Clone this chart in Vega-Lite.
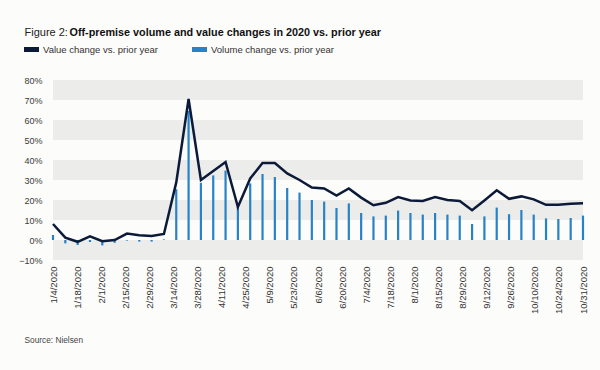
{
  "$schema": "https://vega.github.io/schema/vega-lite/v6.json",
  "width": 530,
  "height": 180,
  "autosize": {"type": "none"},
  "padding": {"left": 53, "top": 80, "right": 17, "bottom": 110},
  "background": "#fcfcfa",
  "config": {
    "view": {"stroke": null},
    "font": "Liberation Sans"
  },
  "datasets": {
    "weeks": [
      {"date": "1/4/2020", "value": 8.0, "volume": 2.5},
      {"date": "1/11/2020", "value": 1.2, "volume": -1.7},
      {"date": "1/18/2020", "value": -0.9, "volume": -2.5},
      {"date": "1/25/2020", "value": 1.8, "volume": -1.0},
      {"date": "2/1/2020", "value": -0.6, "volume": -2.7},
      {"date": "2/8/2020", "value": 0.0, "volume": -1.4},
      {"date": "2/15/2020", "value": 3.2, "volume": -0.3},
      {"date": "2/22/2020", "value": 2.4, "volume": -0.8},
      {"date": "2/29/2020", "value": 2.0, "volume": -0.8},
      {"date": "3/7/2020", "value": 3.0, "volume": 0.3},
      {"date": "3/14/2020", "value": 28.8, "volume": 25.4},
      {"date": "3/21/2020", "value": 70.5, "volume": 64.5},
      {"date": "3/28/2020", "value": 30.0, "volume": 28.6},
      {"date": "4/4/2020", "value": 34.5, "volume": 32.3},
      {"date": "4/11/2020", "value": 39.0, "volume": 34.7},
      {"date": "4/18/2020", "value": 16.5, "volume": 16.5},
      {"date": "4/25/2020", "value": 30.8, "volume": 28.3},
      {"date": "5/2/2020", "value": 38.5, "volume": 33.0},
      {"date": "5/9/2020", "value": 38.5, "volume": 31.5},
      {"date": "5/16/2020", "value": 33.3, "volume": 26.0},
      {"date": "5/23/2020", "value": 30.0, "volume": 23.7},
      {"date": "5/30/2020", "value": 26.2, "volume": 20.0},
      {"date": "6/6/2020", "value": 25.8, "volume": 19.2},
      {"date": "6/13/2020", "value": 22.2, "volume": 16.0},
      {"date": "6/20/2020", "value": 25.8, "volume": 18.3},
      {"date": "6/27/2020", "value": 21.2, "volume": 13.5},
      {"date": "7/4/2020", "value": 17.4, "volume": 11.8},
      {"date": "7/11/2020", "value": 18.6, "volume": 12.2},
      {"date": "7/18/2020", "value": 21.5, "volume": 14.7},
      {"date": "7/25/2020", "value": 19.8, "volume": 13.5},
      {"date": "8/1/2020", "value": 19.5, "volume": 12.7},
      {"date": "8/8/2020", "value": 21.5, "volume": 13.5},
      {"date": "8/15/2020", "value": 20.0, "volume": 12.7},
      {"date": "8/22/2020", "value": 19.5, "volume": 12.2},
      {"date": "8/29/2020", "value": 14.9, "volume": 8.0},
      {"date": "9/5/2020", "value": 19.8, "volume": 11.8},
      {"date": "9/12/2020", "value": 24.9, "volume": 16.2},
      {"date": "9/19/2020", "value": 20.6, "volume": 12.9},
      {"date": "9/26/2020", "value": 21.8, "volume": 15.0},
      {"date": "10/3/2020", "value": 20.3, "volume": 12.7},
      {"date": "10/10/2020", "value": 17.6, "volume": 10.8},
      {"date": "10/17/2020", "value": 17.6, "volume": 10.5},
      {"date": "10/24/2020", "value": 18.1, "volume": 11.0},
      {"date": "10/31/2020", "value": 18.4, "volume": 12.2}
    ],
    "bands": [
      {"lo": -10, "hi": 0},
      {"lo": 10, "hi": 20},
      {"lo": 30, "hi": 40},
      {"lo": 50, "hi": 60},
      {"lo": 70, "hi": 80}
    ],
    "labels": [
      {"label": "1/4/2020"}, {"label": "1/18/2020"}, {"label": "2/1/2020"}, {"label": "2/15/2020"},
      {"label": "2/29/2020"}, {"label": "3/14/2020"}, {"label": "3/28/2020"}, {"label": "4/11/2020"},
      {"label": "4/25/2020"}, {"label": "5/9/2020"}, {"label": "5/23/2020"}, {"label": "6/6/2020"},
      {"label": "6/20/2020"}, {"label": "7/4/2020"}, {"label": "7/18/2020"}, {"label": "8/1/2020"},
      {"label": "8/15/2020"}, {"label": "8/29/2020"}, {"label": "9/12/2020"}, {"label": "9/26/2020"},
      {"label": "10/10/2020"}, {"label": "10/24/2020"}, {"label": "10/31/2020"}
    ]
  },
  "resolve": {"scale": {"x": "independent"}, "axis": {"x": "independent"}},
  "layer": [
    {
      "data": {"name": "bands"},
      "mark": {"type": "rect", "color": "#ececea"},
      "encoding": {
        "y": {
          "field": "lo", "type": "quantitative",
          "scale": {"domain": [-10, 80], "nice": false, "zero": false}
        },
        "y2": {"field": "hi"}
      }
    },
    {
      "data": {"name": "weeks"},
      "mark": {"type": "rule", "strokeWidth": 2.2},
      "encoding": {
        "x": {
          "field": "date", "type": "ordinal", "sort": null,
          "scale": {"type": "point", "padding": 0},
          "axis": {
            "orient": "top",
            "labels": false, "domain": false, "ticks": false, "tickSize": 0, "grid": false,
            "title": "Figure 2:",
            "titleX": -29,
            "titleY": -45,
            "titleAlign": "left",
            "titleBaseline": "alphabetic",
            "titleFont": "Liberation Sans",
            "titleFontSize": 11,
            "titleFontWeight": "normal",
            "titleColor": "#222222"
          }
        },
        "y": {"field": "volume", "type": "quantitative"},
        "y2": {"datum": 0},
        "color": {"datum": "Volume change vs. prior year"}
      }
    },
    {
      "data": {"name": "weeks"},
      "mark": {"type": "line", "strokeWidth": 2.5, "strokeJoin": "miter"},
      "encoding": {
        "x": {"field": "date", "type": "ordinal", "sort": null, "scale": {"type": "point", "padding": 0}, "axis": null},
        "y": {
          "field": "value", "type": "quantitative",
          "axis": {
            "values": [-10, 0, 10, 20, 30, 40, 50, 60, 70, 80],
            "tickCount": 12,
            "labelExpr": "format(datum.value, 'd') + '%'",
            "labelOverlap": false,
            "labelFlush": false,
            "grid": false, "domain": false, "ticks": false, "tickSize": 0,
            "labelPadding": 11, "labelFontSize": 9, "labelColor": "#3a3a3a",
            "labelFont": "Liberation Sans",
            "title": "Off-premise volume and value changes in 2020 vs. prior year",
            "titleAngle": 0,
            "titleX": 16,
            "titleY": -45,
            "titleAlign": "left",
            "titleBaseline": "alphabetic",
            "titleFont": "Liberation Sans",
            "titleFontSize": 10.8,
            "titleFontWeight": "bold",
            "titleColor": "#111111"
          }
        },
        "color": {
          "datum": "Value change vs. prior year",
          "scale": {
            "domain": ["Value change vs. prior year", "Volume change vs. prior year"],
            "range": ["#0c1a3a", "#2782c8"]
          },
          "legend": {
            "title": null,
            "orient": "none",
            "legendX": -29,
            "legendY": -38,
            "direction": "horizontal",
            "columnPadding": 34,
            "padding": 0,
            "labelFont": "Liberation Sans",
            "labelFontSize": 9.5,
            "labelColor": "#333333",
            "labelOffset": 4,
            "symbolType": "M-1,-0.33H1V0.33H-1Z",
            "symbolSize": 225,
            "encode": {
              "symbols": {
                "update": {
                  "fill": {"scale": "color", "field": "value"},
                  "strokeWidth": {"value": 0}
                }
              }
            }
          }
        }
      }
    },
    {
      "data": {"name": "labels"},
      "mark": {"type": "point", "opacity": 0},
      "encoding": {
        "x": {
          "field": "label", "type": "ordinal", "sort": null,
          "scale": {"type": "point", "padding": 0},
          "axis": {
            "orient": "bottom",
            "labelAngle": 270,
            "labelFont": "Liberation Sans",
            "labelFontSize": 9.5,
            "labelColor": "#333333",
            "labelPadding": 6,
            "domain": false, "ticks": false, "tickSize": 0, "grid": false,
            "title": "Source: Nielsen",
            "titleFont": "Liberation Sans",
            "titleFontSize": 8.3,
            "titleFontWeight": "normal",
            "titleColor": "#444444",
            "titleAnchor": "start",
            "titleAlign": "left",
            "titleBaseline": "middle",
            "titleX": -29,
            "titleY": 80
          }
        }
      }
    }
  ]
}
